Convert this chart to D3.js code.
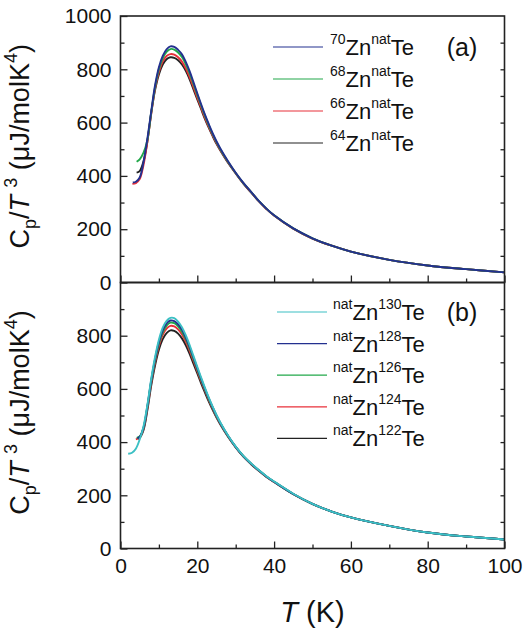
<!DOCTYPE html>
<html><head><meta charset="utf-8">
<script src="https://cdn.jsdelivr.net/npm/d3@7"></script>
<style>body{margin:0;background:#fff}svg{display:block}text{font-family:"Liberation Sans",Arial,sans-serif;fill:#111}</style>
</head><body>
<script>
// ---------- data ----------
const TA70 = [3.2,4,5,6,7,8,9,10,11,12,13,14,15,16,17,18,19,20,21,22,23,24,25,26,28,30,32,34,36,38,40,45,50,55,60,70,80,90,100];
const zn70 = [375,378,394,452,540,642,740,808,850,875,886,884,873,856,828,793,752,710,669,630,594,560,530,503,455,412,374,340,306,277,252,203,166,138,116,85,64,50,38];
const TA68 = [4.2,5,6,7,8,9,10,11,12,13,14,15,16,17,18,19,20,21,22,23,24,25,26,28,30,32,34,36,38,40,45,50,55,60,70,80,90,100];
const zn68 = [453,462,487,535,638,733,800,841,865,876,874,863,846,819,785,745,704,664,625,590,557,527,500,453,411,373,340,306,277,252,203,166,138,116,85,64,50,38];
const TA66 = [3.1,4,5,6,7,8,9,10,11,12,13,14,15,16,17,18,19,20,21,22,23,24,25,26,28,30,32,34,36,38,40,45,50,55,60,70,80,90,100];
const zn66 = [370,373,388,442,528,632,728,790,829,850,857,855,845,829,804,771,733,694,656,618,584,552,523,497,451,410,372,339,305,276,251,202,165,138,116,85,64,50,38];
const TA64 = [4.2,5,6,7,8,9,10,11,12,13,14,15,16,17,18,19,20,21,22,23,24,25,26,28,30,32,34,36,38,40,45,50,55,60,70,80,90,100];
const zn64 = [412,418,455,530,636,722,781,818,838,845,843,834,818,794,762,725,687,650,613,580,549,520,495,449,409,371,338,305,276,251,202,165,138,116,85,64,50,38];

const TB130 = [2,3,4,5,6,7,8,9,10,11,12,13,14,15,16,17,18,19,20,21,22,23,24,25,26,28,30,32,34,36,38,40,45,50,55,60,70,80,90,100];
const te130 = [356,360,375,410,460,540,638,720,785,830,856,867,866,853,832,802,765,724,683,643,604,567,533,502,474,425,383,348,320,295,272,252,206,168,139,117,85,60,45,34];
const TB128 = [4.4,5,6,7,8,9,10,11,12,13,14,15,16,17,18,19,20,21,22,23,24,25,26,28,30,32,34,36,38,40,45,50,55,60,70,80,90,100];
const te128 = [415,420,455,535,632,712,776,820,846,857,855,843,823,794,758,718,677,638,600,564,531,500,472,424,382,347,319,294,271,251,205,168,139,117,85,60,45,34];
const TB126 = [4.2,5,6,7,8,9,10,11,12,13,14,15,16,17,18,19,20,21,22,23,24,25,26,28,30,32,34,36,38,40,45,50,55,60,70,80,90,100];
const te126 = [416,421,453,532,628,707,770,813,838,849,847,835,815,787,752,713,673,634,597,561,529,498,471,423,382,347,319,294,271,251,205,168,139,117,85,60,45,34];
const TB124 = [4.0,5,6,7,8,9,10,11,12,13,14,15,16,17,18,19,20,21,22,23,24,25,26,28,30,32,34,36,38,40,45,50,55,60,70,80,90,100];
const te124 = [410,418,450,527,622,700,761,803,827,837,835,824,805,778,744,706,667,629,593,558,526,496,469,422,381,346,318,293,270,250,205,168,139,117,85,60,45,34];
const TB122 = [4.5,5,6,7,8,9,10,11,12,13,14,15,16,17,18,19,20,21,22,23,24,25,26,28,30,32,34,36,38,40,45,50,55,60,70,80,90,100];
const te122 = [412,416,446,520,612,688,747,787,810,820,818,808,790,764,732,695,658,621,586,552,521,492,466,420,380,345,317,292,269,250,204,167,139,117,85,60,45,34];

const xTicks = [0,20,40,60,80,100];
const yTicksA = [0,200,400,600,800,1000];
const yTicksB = [0,200,400,600,800];

const seriesA = [
  {sup1:"64", sup2:"nat", T:TA64, v:zn64, color:"#222222"},
  {sup1:"66", sup2:"nat", T:TA66, v:zn66, color:"#e8303a"},
  {sup1:"68", sup2:"nat", T:TA68, v:zn68, color:"#22a84a"},
  {sup1:"70", sup2:"nat", T:TA70, v:zn70, color:"#23308f"}
];
const seriesB = [
  {sup1:"nat", sup2:"122", T:TB122, v:te122, color:"#222222"},
  {sup1:"nat", sup2:"124", T:TB124, v:te124, color:"#e8303a"},
  {sup1:"nat", sup2:"126", T:TB126, v:te126, color:"#22a84a"},
  {sup1:"nat", sup2:"128", T:TB128, v:te128, color:"#23308f"},
  {sup1:"nat", sup2:"130", T:TB130, v:te130, color:"#3cc0c4"}
];

// ---------- drawing ----------
const W = 524, H = 628;
const svg = d3.select("body").append("svg").attr("width", W).attr("height", H);
const x = d3.scaleLinear([0,100],[120.5,504.5]);
const yA = d3.scaleLinear([0,1000],[282.5,16]);
const yB = d3.scaleLinear([0,1000],[548.5,282.5]);

function panel(y, series, yTicks, showX, tag, legX, legY0, legDy, textX, tagY) {
  const g = svg.append("g");
  const line = d3.line().x(d=>x(d[0])).y(d=>y(d[1])).curve(d3.curveCatmullRom.alpha(0.5));
  series.forEach(s => {
    g.append("path").attr("d", line(s.T.map((t,i)=>[t,s.v[i]])))
      .attr("fill","none").attr("stroke",s.color).attr("stroke-width",1.9);
  });
  const minorY = d3.range(100,1000,200);
  const la = g.append("g").attr("transform",`translate(${x(0)},0)`)
    .call(d3.axisLeft(y).tickValues(yTicks).tickSize(-7).tickPadding(9).tickFormat(d3.format("d")));
  la.select(".domain").remove();
  la.selectAll("text").attr("font-size",21).style("font-family","Liberation Sans, Arial, sans-serif");
  la.selectAll("line").attr("stroke","#222").attr("stroke-width",1.3);
  const lm = g.append("g").attr("transform",`translate(${x(0)},0)`)
    .call(d3.axisLeft(y).tickValues(minorY).tickSize(-4).tickFormat(""));
  lm.select(".domain").remove();
  lm.selectAll("line").attr("stroke","#222").attr("stroke-width",1.3);
  const ra = g.append("g").attr("transform",`translate(${x(100)},0)`)
    .call(d3.axisRight(y).tickValues(d3.range(100,1000,100)).tickSize(-4).tickFormat(""));
  ra.select(".domain").remove();
  ra.selectAll("line").attr("stroke","#222").attr("stroke-width",1.3);
  const ba = g.append("g").attr("transform",`translate(0,${y(0)})`)
    .call(d3.axisBottom(x).tickValues(xTicks).tickSize(-7).tickPadding(10).tickFormat(showX ? d3.format("d") : ""));
  ba.select(".domain").remove();
  ba.selectAll("text").attr("font-size",21).style("font-family","Liberation Sans, Arial, sans-serif");
  ba.selectAll("line").attr("stroke","#222").attr("stroke-width",1.3);
  const bm = g.append("g").attr("transform",`translate(0,${y(0)})`)
    .call(d3.axisBottom(x).tickValues(d3.range(10,100,20)).tickSize(-4).tickFormat(""));
  bm.select(".domain").remove();
  bm.selectAll("line").attr("stroke","#222").attr("stroke-width",1.3);
  g.append("rect").attr("x",x(0)).attr("y",y(1000)).attr("width",x(100)-x(0)).attr("height",y(0)-y(1000))
    .attr("fill","none").attr("stroke","#222").attr("stroke-width",1.6);
  const leg = series.slice().reverse();
  leg.forEach((s,i) => {
    const cy = legY0 + i*legDy;
    g.append("line").attr("x1",legX).attr("x2",legX+50).attr("y1",cy).attr("y2",cy)
      .attr("stroke",s.color).attr("stroke-width",1.2);
    const t = g.append("text").attr("x",textX).attr("y",cy+8).attr("font-size",22);
    t.append("tspan").attr("font-size",14).attr("dy",-11).text(s.sup1);
    t.append("tspan").attr("dy",11).text("Zn");
    t.append("tspan").attr("font-size",14).attr("dy",-11).text(s.sup2);
    t.append("tspan").attr("dy",11).text("Te");
  });
  g.append("text").attr("x",462).attr("y",tagY).attr("text-anchor","middle").attr("font-size",25).text(tag);
  const cx = 29, cyL = (y(0)+y(1000))/2 - 3;
  const yl = g.append("text").attr("transform",`translate(${cx},${cyL}) rotate(-90)`)
    .attr("text-anchor","middle").attr("font-size",27);
  yl.append("tspan").text("C");
  yl.append("tspan").attr("font-size",18).attr("dy",7).text("p");
  yl.append("tspan").attr("dy",-7).text("/");
  yl.append("tspan").attr("font-style","italic").text("T");
  yl.append("tspan").attr("font-size",18).attr("dy",-12).text("\u2009\u20093");
  yl.append("tspan").attr("dy",12).text(" (\u03bcJ/molK");
  yl.append("tspan").attr("font-size",18).attr("dy",-12).text("4");
  yl.append("tspan").attr("dy",12).text(")");
}

panel(yA, seriesA, yTicksA, false, "(a)", 273, 47, 32, 330, 56);
panel(yB, seriesB, yTicksB, true, "(b)", 277, 312, 31.6, 333, 321);

const xl = svg.append("text").attr("x",x(50)).attr("y",622).attr("text-anchor","middle").attr("font-size",29);
xl.append("tspan").attr("font-style","italic").text("T");
xl.append("tspan").text("  (K)");
</script>
</body></html>
